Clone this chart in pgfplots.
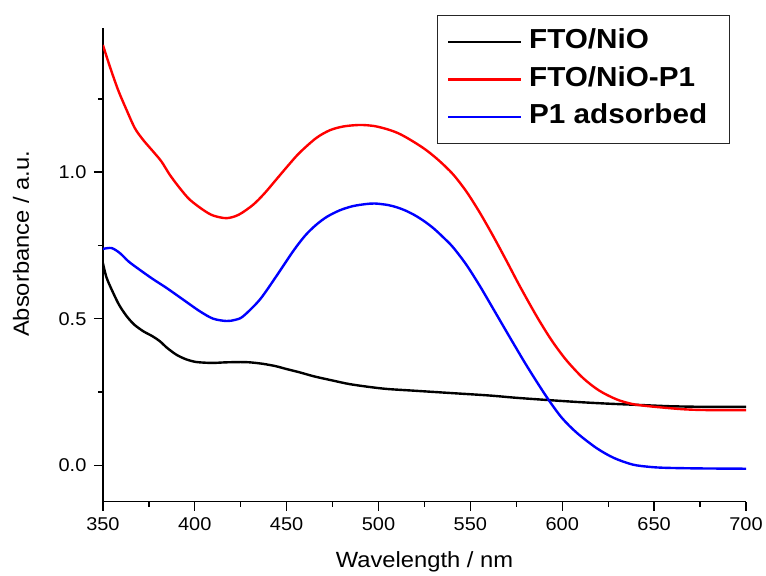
\documentclass[border=0pt]{standalone}
\usepackage{fontspec}
\setmainfont[FakeStretch=1.08]{Liberation Sans}
\usepackage{pgfplots}
\pgfplotsset{compat=1.18}
\begin{document}
\begin{tikzpicture}
\begin{axis}[
  scale only axis, width=643.7pt, height=474pt,
  xmin=350, xmax=700, ymin=-0.124, ymax=1.492,
  axis x line*=bottom, axis y line*=left,
  axis line style={line width=1.4pt, -},
  xtick={350,400,...,700}, minor xtick={375,425,...,675},
  ytick={0,0.5,1}, minor ytick={0.25,0.75,1.25},
  tick align=outside,
  major tick length=9pt, minor tick length=5pt,
  every tick/.style={black, line width=1.4pt},
  tick label style={font=\fontsize{18.5}{21}\selectfont, /pgf/number format/assume math mode=true},
  yticklabel style={xshift=-4pt, /pgf/number format/.cd, fixed, fixed zerofill, precision=1},
  xticklabel style={yshift=-4pt, /pgf/number format/.cd, fixed, precision=0, 1000 sep={}},
  xlabel={Wavelength / nm},
  ylabel={Absorbance / a.u.},
  label style={font=\fontsize{22}{25}\selectfont},
  xlabel style={at={(axis description cs:0.5,-0.1392)}, anchor=base},
  ylabel style={at={(axis description cs:-0.115,0.544)}, anchor=base},
  legend style={at={(axis description cs:0.5189,1.0274)}, anchor=north west,
    draw=black!85, line width=1pt, inner xsep=10pt, inner ysep=11pt,
    row sep=6.5pt, column sep=0pt,
    font=\fontsize{27.5}{31}\selectfont\bfseries,
    nodes={inner xsep=0pt, inner ysep=3pt, text height=19.5pt, text depth=5.5pt},
    /tikz/every odd column/.append style={column sep=6.7pt}},
  legend cell align=left,
  legend image code/.code={\draw[#1,line width=2.4pt] (0pt,0pt) -- (73pt,0pt);},
  every axis plot/.append style={line width=2.4pt, smooth},
]
\addplot[black] coordinates {
(350,0.690) (352,0.640) (355.6,0.588) (359,0.545) (363,0.508) (367,0.480)
(372,0.457) (377,0.440) (381,0.423) (385,0.400) (390,0.377) (395,0.362)
(400,0.353) (405,0.350) (410,0.349) (417,0.351) (425,0.352) (430,0.351)
(437,0.346) (444,0.338) (450,0.328) (457,0.317) (465,0.303) (475,0.289)
(484,0.277) (495,0.267) (505,0.260) (520,0.254) (540,0.246) (560,0.238)
(575,0.230) (593,0.222) (610,0.215) (625,0.210) (644,0.205) (660,0.201)
(680,0.199) (700,0.199)};
\addlegendentry{FTO/NiO}
\addplot[red] coordinates {
(350,1.434) (353.8,1.360) (358.3,1.280) (362.9,1.212) (367.4,1.150) (371.9,1.110)
(377.4,1.070) (381.9,1.036) (386.4,0.991) (391.9,0.945) (397.3,0.906) (404.6,0.871)
(410,0.852) (417.3,0.843) (424,0.855) (431.8,0.889) (438,0.928) (444.5,0.976)
(451,1.024) (457,1.066) (466,1.116) (473.5,1.143) (481,1.156) (489.8,1.161)
(498,1.157) (506,1.144) (512,1.129) (519,1.104) (526,1.075) (533,1.039)
(540.5,0.993) (547.8,0.934) (555.1,0.862) (562.3,0.783) (569.6,0.698) (576.8,0.612)
(585.9,0.510) (594,0.428) (602,0.360) (611.2,0.298) (620,0.255) (629.4,0.225)
(638,0.209) (647.5,0.201) (665.6,0.191) (680,0.188) (700,0.188)};
\addlegendentry{FTO/NiO-P1}
\addplot[blue] coordinates {
(350,0.738) (354.7,0.741) (359.2,0.724) (364,0.695) (370,0.667) (377,0.636)
(384.6,0.605) (393,0.568) (402.8,0.525) (410,0.500) (417.3,0.492) (422,0.496)
(426.3,0.508) (435.4,0.565) (444.5,0.646) (453.5,0.730) (460,0.783) (466,0.820)
(472,0.848) (479,0.870) (486,0.884) (493,0.891) (498,0.893) (505,0.888)
(510,0.880) (515,0.868) (520,0.852) (525,0.832) (530,0.808) (535,0.779)
(540.5,0.744) (547.8,0.684) (555.1,0.612) (562.3,0.535) (571.4,0.437) (580,0.346)
(587,0.276) (593.1,0.218) (600,0.160) (608,0.110) (618.5,0.059) (628,0.025)
(638.4,0.002) (648,-0.006) (656.6,-0.009) (675,-0.011) (700,-0.012)};
\addlegendentry{P1 adsorbed\rule{12pt}{0pt}}
\coordinate (bl) at (rel axis cs:0,0);
\coordinate (tr) at (rel axis cs:1,1);
\end{axis}
\path (bl) ++(-103pt,-72pt) rectangle ([shift={(19.3pt,28pt)}]tr);
\end{tikzpicture}
\end{document}
